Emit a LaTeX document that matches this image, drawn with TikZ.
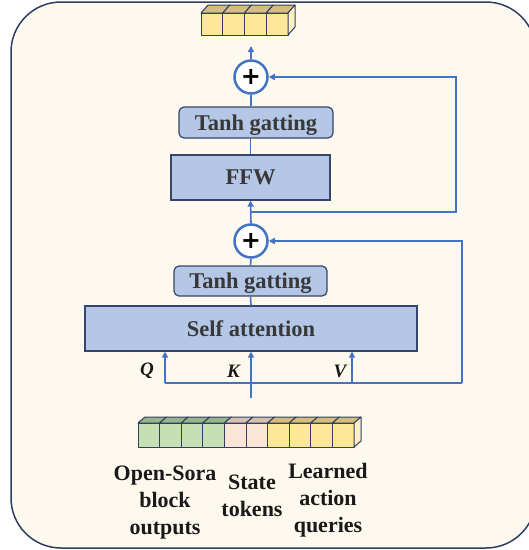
\documentclass[tikz,border=0pt]{standalone}
\usepackage{fontspec}
\setmainfont{Liberation Serif}
\newfontfamily\plusfont{DejaVu Sans}
\usetikzlibrary{arrows.meta}
\definecolor{bgc}{HTML}{FEF9EE}
\definecolor{framec}{HTML}{2E3F62}
\definecolor{boxfill}{HTML}{B4C7E7}
\definecolor{boxline}{HTML}{34476B}
\definecolor{conn}{HTML}{4472C4}
\definecolor{txt}{HTML}{383838}
\definecolor{yelfront}{HTML}{FFE699}
\definecolor{yeltop}{HTML}{D6BD78}
\definecolor{yelside}{HTML}{FFF0C4}
\definecolor{grnfront}{HTML}{C5E0B4}
\definecolor{grntop}{HTML}{98B48A}
\definecolor{pnkfront}{HTML}{FBE5D6}
\definecolor{pnktop}{HTML}{D8C0B0}
\tikzset{
 blk/.style={draw=boxline, line width=1.2pt, fill=boxfill, text=txt, font=\fontsize{22.5}{26}\selectfont\bfseries, inner sep=0pt, text depth=0pt},
 gate/.style={blk, rounded corners=5pt},
 addop/.style={circle, draw=conn, line width=2.5pt, fill=white, minimum size=33pt, inner sep=0pt, font=\plusfont\fontsize{24}{24}\selectfont\bfseries},
 con/.style={draw=conn, line width=1.6pt},
 arr/.style={con, -{Triangle[length=6pt,width=6pt]}},
 lab/.style={font=\fontsize{22}{27}\selectfont\bfseries, align=center, text=black!90},
 qkv/.style={font=\fontsize{19}{19}\selectfont\bfseries\itshape, text=black!90},
 cube/.style={draw=framec, line width=1pt, line join=round}
}
\newcommand{\cubeat}[8]{%
 \filldraw[cube, fill=#8] (#1,#2) -- ++(#5,-#6) -- ++(#3,0) -- ++(-#5,#6) -- cycle;
 \filldraw[cube, fill=#7] (#1,#2) rectangle ++(#3,#4);
}
\begin{document}
\begin{tikzpicture}[x=1pt,y=-1pt]
\useasboundingbox (0,0) rectangle (529,550);
\begin{scope}
\clip (0,0) rectangle (529,550);
\filldraw[fill=bgc, draw=framec, line width=1.5pt, rounded corners=50pt] (11,2) rectangle (536,548);
\end{scope}

% output tokens
\foreach \i in {0,1,2,3}{
 \pgfmathsetmacro\xx{201+\i*21.75}
 \cubeat{\xx}{13}{21.75}{22}{7}{8}{yelfront}{yeltop}
}
\filldraw[cube, fill=yelside] (288,13) -- ++(7,-8) -- ++(0,22) -- ++(-7,8) -- cycle;

% input tokens
\foreach \i/\f/\t in {0/grnfront/grntop,1/grnfront/grntop,2/grnfront/grntop,3/grnfront/grntop,4/pnkfront/pnktop,5/pnkfront/pnktop,6/yelfront/yeltop,7/yelfront/yeltop,8/yelfront/yeltop,9/yelfront/yeltop}{
 \pgfmathsetmacro\xx{138+\i*21.6}
 \cubeat{\xx}{423}{21.6}{24}{7}{6}{\f}{\t}
}
\filldraw[cube, fill=yelside] (354,423) -- ++(7,-6) -- ++(0,24) -- ++(-7,6) -- cycle;

% blocks
\node[gate, minimum width=154pt, minimum height=31pt] (tanhA) at (256,122.5) {Tanh gatting};
\node[blk, minimum width=159pt, minimum height=45pt] (ffw) at (250.5,177.5) {FFW};
\node[gate, minimum width=153pt, minimum height=30pt] (tanhB) at (250.5,281) {Tanh gatting};
\node[blk, minimum width=332pt, minimum height=45pt] (sa) at (251,328.5) {Self attention};
\node[addop] (addA) at (251,77) {+};
\node[addop] (addB) at (251,241) {+};

% connectors
\coordinate (outtip) at (251,46);
\draw[arr] (addA.north) -- (outtip);
\draw[con] (addA.south) -- (addA.south |- tanhA.north);
\draw[con] (tanhA.south -| ffw.north) -- (ffw.north);
\draw[arr] (addB.north) -- (ffw.south);
\coordinate (resA) at (251,212);
\coordinate (cornA) at (456,212);
\draw[arr] (resA) -- (cornA) |- (addA.east);
\draw[con] (addB.south) -- (tanhB.north);
\draw[con] (tanhB.south) -- (sa.north);
\coordinate (kin) at (251,398);
\coordinate (qfoot) at (165,383);
\coordinate (vfoot) at (352,383);
\coordinate (cornB) at (462,383);
\draw[arr] (kin) -- (sa.south);
\draw[arr] (qfoot) -- (qfoot |- sa.south);
\draw[arr] (vfoot) -- (vfoot |- sa.south);
\draw[con] (qfoot) -- (cornB);
\draw[arr] (cornB) |- (addB.east);

% labels
\node[qkv] (lq) at (147,371) {Q};
\node[qkv] (lk) at (233.5,371) {K};
\node[qkv] (lv) at (340,371) {V};
\node[lab] (lopen) at (165,503) {Open-Sora\\block\\outputs};
\node[lab] (lstate) at (252,496) {State\\tokens};
\node[lab] (llearn) at (328,500) {Learned\\action\\queries};
\end{tikzpicture}
\end{document}
